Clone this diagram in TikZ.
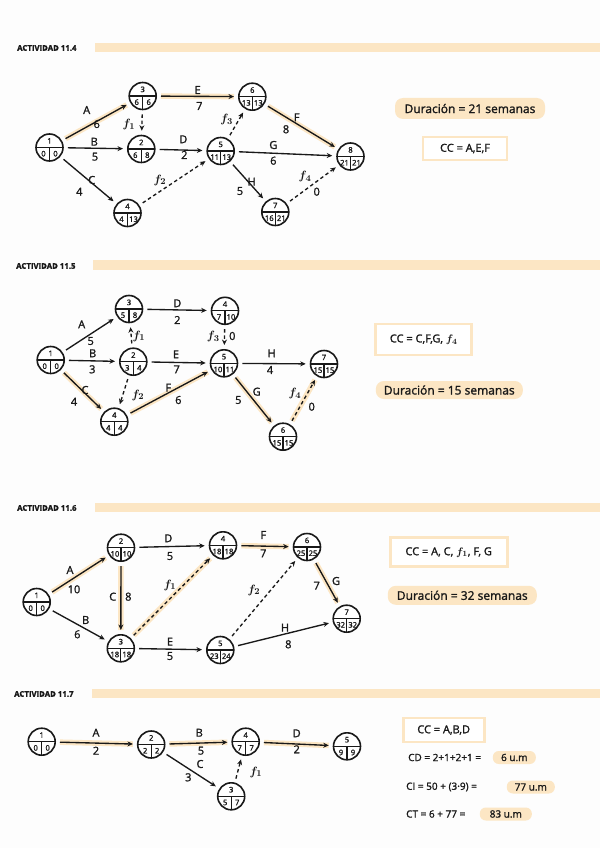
\documentclass[tikz,border=0pt]{standalone}
\usepackage{fontspec}
\usepackage{bm}
\setmainfont{Open Sans}
\newfontfamily\hw{Open Sans}[FakeBold=1.5]
\usetikzlibrary{arrows.meta}
\definecolor{hl}{RGB}{252,230,196}
\definecolor{ink}{RGB}{25,25,25}
\definecolor{bg}{RGB}{253,253,253}
\newcommand{\ev}[5]{%
 \node[evc] (#1) at (#2) {};
 \node[evn] (#1-t) at ([yshift=6.6pt]#1.center) {#3};
 \node[evn] (#1-l) at ([xshift=-6pt,yshift=-6.2pt]#1.center) {#4};
 \node[evn] (#1-r) at ([xshift=6pt,yshift=-6.2pt]#1.center) {#5};}
\newcommand{\fv}[1]{$\bm{f}_{\bm{#1}}$}
\begin{document}
\begin{tikzpicture}[x=1pt,y=-1pt,
 evc/.style={circle, draw=ink, line width=1.6pt, fill=white, minimum size=27pt, inner sep=0pt,
   path picture={\draw[ink,line width=1.2pt] (path picture bounding box.west) -- (path picture bounding box.east)
     (path picture bounding box.center) -- (path picture bounding box.south);}},
 evn/.style={inner sep=0pt, font=\hw\fontsize{7.6}{8}\selectfont, text=ink},
 lbl/.style={inner sep=0pt, font=\hw\fontsize{11}{12}\selectfont, text=ink},
 fl/.style={inner sep=0pt, font=\fontsize{12.5}{13}\selectfont, text=ink},
 act/.style={draw=ink, line width=1.35pt, -{Stealth[length=5.5pt,width=5pt]}, shorten <=4pt, shorten >=4pt},
 dum/.style={act, dash pattern=on 3.5pt off 2.8pt},
 crit/.style={preaction={draw=hl, line width=5.5pt, arrows=-, solid}},
 hd/.style={anchor=west, inner sep=0pt, font=\hw\bfseries\fontsize{7.8}{8}\selectfont, text=ink},
 ccbox/.style={draw=hl, line width=2.8pt, fill=white, inner sep=0pt, font=\hw\fontsize{11}{12}\selectfont, text=ink},
 dur/.style={fill=hl, rounded corners=8pt, inner sep=0pt, font=\hw\fontsize{12}{13}\selectfont, text=ink},
 hm/.style={fill=hl, rounded corners=6pt, inner sep=0pt, minimum height=13pt, font=\hw\fontsize{10}{11}\selectfont, text=ink},
 txt/.style={anchor=west, inner sep=0pt, font=\hw\fontsize{10}{11}\selectfont, text=ink}]
\useasboundingbox (0,0) rectangle (600,848);
\fill[bg] (0,0) rectangle (600,848);

% ---------- headers
\fill[hl] (95,43) rectangle (600,52);
\node[hd] (h1) at (17,48) {ACTIVIDAD 11.4};
\fill[hl] (93,260) rectangle (600,270);
\node[hd] (h2) at (16,266) {ACTIVIDAD 11.5};
\fill[hl] (95,503) rectangle (600,512);
\node[hd] (h3) at (17,508) {ACTIVIDAD 11.6};
\fill[hl] (92,689) rectangle (600,698);
\node[hd] (h4) at (14,694) {ACTIVIDAD 11.7};

% ---------- 11.4
\ev{a1}{49.5,147.5}{1}{0}{0}
\ev{a3}{142.7,96}{3}{6}{6}
\ev{a2}{141.3,149}{2}{6}{8}
\ev{a4}{127.5,213}{4}{4}{13}
\ev{a5}{220.7,151}{5}{11}{13}
\ev{a6}{252.3,96.7}{6}{13}{13}
\ev{a7}{275.3,212}{7}{16}{21}
\ev{a8}{350.5,156.5}{8}{21}{21}
\draw[act,crit] (a1) -- (a3);
\node[lbl] (a13n) at (86.7,110) {A};
\node[lbl] (a13d) at (96.7,124) {6};
\draw[act] (a1) -- (a2);
\node[lbl] (a12n) at (94.3,141.7) {B};
\node[lbl] (a12d) at (95,156.7) {5};
\draw[act] (a1) -- (a4);
\node[lbl] (a14n) at (91.7,180) {C};
\node[lbl] (a14d) at (79.3,191.7) {4};
\draw[dum] (a3) -- (a2);
\node[fl] (a32n) at (129,125) {\fv{1}};
\draw[act,crit] (a3) -- (a6);
\node[lbl] (a36n) at (197.7,90) {E};
\node[lbl] (a36d) at (199.3,106) {7};
\draw[act] (a2) -- (a5);
\node[lbl] (a25n) at (183.3,139.3) {D};
\node[lbl] (a25d) at (184.3,155) {2};
\draw[dum] (a4) -- (a5);
\node[fl] (a45n) at (160,180) {\fv{2}};
\draw[dum] (a5) -- (a6);
\node[fl] (a56n) at (226.7,120) {\fv{3}};
\draw[act] (a5) -- (a8);
\node[lbl] (a58n) at (273.3,145) {G};
\node[lbl] (a58d) at (273.3,160.7) {6};
\draw[act,crit] (a6) -- (a8);
\node[lbl] (a68n) at (296.7,117.3) {F};
\node[lbl] (a68d) at (286,129.3) {8};
\draw[act] (a5) -- (a7);
\node[lbl] (a57n) at (251.7,181.7) {H};
\node[lbl] (a57d) at (240,191) {5};
\draw[dum] (a7) -- (a8);
\node[fl] (a78n) at (305,176.7) {\fv{4}};
\node[lbl] (a78d) at (316.7,191.7) {0};
\node[dur, minimum width=150pt, minimum height=21pt] (du1) at (470,108.5) {Duración = 21 semanas};
\node[ccbox, minimum width=84pt, minimum height=23pt] (cc1) at (465,148.5) {CC = A,E,F};

% ---------- 11.5
\ev{b1}{50.7,360}{1}{0}{0}
\ev{b3}{129,309}{3}{5}{8}
\ev{b2}{133.3,361.7}{2}{3}{4}
\ev{b4}{114.3,421.7}{4}{4}{4}
\ev{bq}{225,310.8}{4}{7}{10}
\ev{b5}{224,363.3}{5}{10}{11}
\ev{b6}{283,436.7}{6}{15}{15}
\ev{b7}{324,364}{7}{15}{15}
\draw[act] (b1) -- (b3);
\node[lbl] (b13n) at (81.7,324.3) {A};
\node[lbl] (b13d) at (90.7,341) {5};
\draw[act] (b1) -- (b2);
\node[lbl] (b12n) at (92.7,353.3) {B};
\node[lbl] (b12d) at (92.3,369.3) {3};
\draw[act,crit] (b1) -- (b4);
\node[lbl] (b14n) at (85,390) {C};
\node[lbl] (b14d) at (74,401.7) {4};
\draw[dum] (b2) -- (b3);
\node[fl] (b23n) at (139,336) {\fv{1}};
\draw[dum] (b2) -- (b4);
\node[fl] (b24n) at (138,395) {\fv{2}};
\draw[act] (b3) -- (bq);
\node[lbl] (b3qn) at (177.3,303.3) {D};
\node[lbl] (b3qd) at (177.3,320) {2};
\draw[act] (b2) -- (b5);
\node[lbl] (b25n) at (176,354.3) {E};
\node[lbl] (b25d) at (176.7,369.3) {7};
\draw[act,crit] (b4) -- (b5);
\node[lbl] (b45n) at (168.3,387.7) {F};
\node[lbl] (b45d) at (178.3,400) {6};
\draw[dum] (bq) -- (b5);
\node[fl] (bq5n) at (213.3,336.7) {\fv{3}};
\node[lbl] (bq5d) at (232.3,336) {0};
\draw[act] (b5) -- (b7);
\node[lbl] (b57n) at (271.7,353.3) {H};
\node[lbl] (b57d) at (270,370) {4};
\draw[act,crit] (b5) -- (b6);
\node[lbl] (b56n) at (256.7,391.7) {G};
\node[lbl] (b56d) at (238.3,400) {5};
\draw[dum,crit] (b6) -- (b7);
\node[fl] (b67n) at (295,393.3) {\fv{4}};
\node[lbl] (b67d) at (311.7,406.7) {0};
\node[ccbox, minimum width=96pt, minimum height=31pt] (cc2) at (423.7,339.5) {CC = C,F,G, \fv{4}};
\node[dur, minimum width=147pt, minimum height=18pt] (du2) at (449.3,390) {Duración = 15 semanas};

% ---------- 11.6
\ev{c1}{36.7,602}{1}{0}{0}
\ev{c2}{121,547.7}{2}{10}{10}
\ev{c3}{120.8,648.3}{3}{18}{18}
\ev{c4}{223,545.3}{4}{18}{18}
\ev{c5}{220.3,650}{5}{23}{24}
\ev{c6}{307,547}{6}{25}{25}
\ev{c7}{346.7,618.7}{7}{32}{32}
\draw[act,crit] (c1) -- (c2);
\node[lbl] (c12n) at (70,570) {A};
\node[lbl] (c12d) at (74,589.3) {10};
\draw[act] (c1) -- (c3);
\node[lbl] (c13n) at (85.7,620) {B};
\node[lbl] (c13d) at (77.3,634.3) {6};
\draw[act,crit] (c2) -- (c3);
\node[lbl] (c23n) at (112.7,596.7) {C};
\node[lbl] (c23d) at (128.3,596.7) {8};
\draw[act] (c2) -- (c4);
\node[lbl] (c24n) at (168.3,538.3) {D};
\node[lbl] (c24d) at (170,556) {5};
\draw[dum,crit] (c3) -- (c4);
\node[fl] (c34n) at (170,585) {\fv{1}};
\draw[act] (c3) -- (c5);
\node[lbl] (c35n) at (170,641.7) {E};
\node[lbl] (c35d) at (170,656) {5};
\draw[act,crit] (c4) -- (c6);
\node[lbl] (c46n) at (263.3,535) {F};
\node[lbl] (c46d) at (263.3,553.3) {7};
\draw[dum] (c5) -- (c6);
\node[fl] (c56n) at (254,590) {\fv{2}};
\draw[act] (c5) -- (c7);
\node[lbl] (c57n) at (285,627.7) {H};
\node[lbl] (c57d) at (288.3,644.3) {8};
\draw[act,crit] (c6) -- (c7);
\node[lbl] (c67n) at (336,581) {G};
\node[lbl] (c67d) at (316.7,585.7) {7};
\node[ccbox, minimum width=117pt, minimum height=29pt] (cc3) at (448.7,552.3) {CC = A, C, \fv{1}, F, G};
\node[dur, minimum width=149pt, minimum height=19pt] (du3) at (462.3,595.3) {Duración = 32 semanas};

% ---------- 11.7
\ev{d1}{41.7,741.7}{1}{0}{0}
\ev{d2}{151.2,744.5}{2}{2}{2}
\ev{d4}{245.7,741.7}{4}{7}{7}
\ev{d3}{231.2,796.3}{3}{5}{7}
\ev{d5}{347,746.3}{5}{9}{9}
\draw[act,crit] (d1) -- (d2);
\node[lbl] (d12n) at (96,732.7) {A};
\node[lbl] (d12d) at (96,750.7) {2};
\draw[act,crit] (d2) -- (d4);
\node[lbl] (d24n) at (199.3,732.7) {B};
\node[lbl] (d24d) at (201,750.7) {5};
\draw[act] (d2) -- (d3);
\node[lbl] (d23n) at (200,764) {C};
\node[lbl] (d23d) at (188.3,777.3) {3};
\draw[dum] (d3) -- (d4);
\node[fl] (d34n) at (256,772) {\fv{1}};
\draw[act,crit] (d4) -- (d5);
\node[lbl] (d45n) at (296.7,733.3) {D};
\node[lbl] (d45d) at (296.7,749.3) {2};
\node[ccbox, minimum width=81pt, minimum height=24pt] (cc4) at (443.7,730) {CC = A,B,D};
\node[txt] (cd) at (408,757.5) {CD = 2+1+2+1 =};
\node[hm, minimum width=43pt] (cdv) at (514.3,757.5) {6 u.m};
\node[txt] (ci) at (406,787) {CI = 50 + (3·9) =};
\node[hm, minimum width=48pt] (civ) at (530.8,787) {77 u.m};
\node[txt] (ct) at (406,814) {CT = 6 + 77 =};
\node[hm, minimum width=52pt] (ctv) at (505.8,814) {83 u.m};
\end{tikzpicture}
\end{document}
